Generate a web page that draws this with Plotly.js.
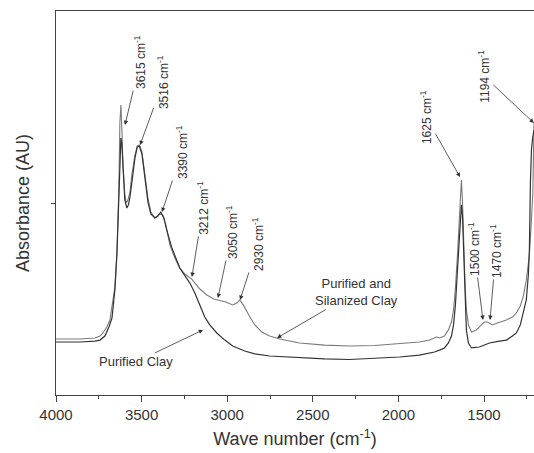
<!DOCTYPE html>
<html>
<head>
<meta charset="utf-8">
<script src="https://cdn.plot.ly/plotly-3.0.1.min.js"></script>
<style>html,body{margin:0;padding:0;background:#fff;}#chart{width:534px;height:453px;}</style>
</head>
<body>
<div id="chart"></div>
<script>
// Purified and Silanized Clay (lighter line)
const silWn = [4000,3860,3772,3743,3726,3703,3685,3667,3656,3644,3638,3633,3627,3621,3615,3609,3598,3589,3580,3568,3557,3539,3525,3513,3498,3481,3463,3446,3422,3393,3376,3358,3335,3306,3277,3247,3207,3160,3119,3078,3049,3008,2968,2944,2927,2903,2874,2839,2798,2752,2693,2577,2431,2285,2139,1993,1877,1818,1778,1760,1731,1708,1690,1678,1667,1655,1643,1638,1632,1626,1620,1611,1603,1591,1573,1544,1515,1498,1480,1468,1451,1422,1369,1334,1311,1288,1270,1253,1235,1223,1215,1212,1208];
const silAbs = [0.292,0.292,0.297,0.307,0.323,0.354,0.391,0.495,0.562,0.740,0.911,1.068,1.417,1.510,1.380,1.198,1.042,1.000,1.016,1.057,1.146,1.250,1.297,1.302,1.266,1.161,1.026,0.953,0.922,0.943,0.937,0.885,0.781,0.714,0.661,0.630,0.604,0.552,0.521,0.500,0.495,0.484,0.469,0.479,0.495,0.464,0.417,0.365,0.328,0.307,0.292,0.271,0.260,0.255,0.258,0.266,0.276,0.286,0.302,0.297,0.307,0.339,0.380,0.443,0.557,0.729,0.937,1.042,1.120,1.016,0.781,0.583,0.443,0.365,0.328,0.339,0.365,0.380,0.380,0.375,0.365,0.375,0.391,0.406,0.427,0.464,0.516,0.599,0.729,0.911,1.050,1.200,1.420];

// Purified Clay (darker line)
const purWn = [4000,3860,3772,3743,3714,3691,3673,3656,3644,3635,3627,3621,3615,3609,3598,3586,3577,3568,3557,3539,3525,3513,3498,3481,3463,3446,3422,3405,3388,3370,3353,3323,3277,3218,3189,3160,3131,3102,3061,3014,2968,2898,2839,2752,2664,2577,2431,2285,2139,1993,1877,1789,1760,1731,1708,1690,1678,1667,1655,1643,1638,1632,1626,1620,1611,1603,1591,1573,1527,1468,1410,1369,1334,1311,1288,1270,1253,1241,1235,1229,1223,1216,1208];
const purAbs = [0.276,0.276,0.281,0.286,0.307,0.354,0.401,0.547,0.740,0.964,1.224,1.339,1.302,1.182,1.016,0.974,0.990,1.031,1.120,1.234,1.292,1.297,1.255,1.141,1.005,0.943,0.922,0.932,0.953,0.922,0.859,0.766,0.661,0.583,0.531,0.469,0.406,0.365,0.323,0.286,0.255,0.229,0.214,0.203,0.198,0.195,0.188,0.185,0.190,0.198,0.208,0.224,0.234,0.245,0.271,0.307,0.365,0.469,0.651,0.859,0.953,0.990,0.937,0.755,0.495,0.339,0.271,0.245,0.250,0.271,0.281,0.286,0.307,0.323,0.365,0.427,0.495,0.625,0.755,1.104,1.276,1.340,1.380];

// Peak labels and their arrow tips (wavenumber, absorbance)
const peakLabels = ["3615 cm<sup>-1</sup>","3516 cm<sup>-1</sup>","3390 cm<sup>-1</sup>","3212 cm<sup>-1</sup>","3050 cm<sup>-1</sup>","2930 cm<sup>-1</sup>","1625 cm<sup>-1</sup>","1194 cm<sup>-1</sup>","1500 cm<sup>-1</sup>","1470 cm<sup>-1</sup>"];
const peakTipWn = [3597,3509,3381,3206,3054,2925,1640,1209,1506,1465];
const peakTipAbs = [1.406,1.302,0.953,0.615,0.505,0.495,1.135,1.417,0.391,0.391];
const peakAx = [15,23,20,11,14,18,-34,-50,-9,6];
const peakAy = [-63,-63,-60,-69,-66,-56,-60,-47,-71,-69];

const xTickVals = [4000,3500,3000,2500,2000,1500];

const ink = '#333333';
const annotations = peakLabels.map((t,i)=>({
  x: peakTipWn[i], y: peakTipAbs[i], xref:'x', yref:'y',
  text: t, textangle: -90, showarrow: true,
  ax: peakAx[i], ay: peakAy[i],
  arrowhead: 2, arrowsize: 1.1, arrowwidth: 0.8, arrowcolor: ink,
  font: {family: 'Liberation Sans, Arial, sans-serif', size: 12, color: ink}
}));
annotations.push({
  x: 2709, y: 0.297, xref:'x', yref:'y',
  text: 'Purified and<br>Silanized Clay', showarrow: true, ax: 79, ay: -46,
  arrowhead: 2, arrowsize: 1.1, arrowwidth: 0.8, arrowcolor: ink,
  font: {family: 'Liberation Sans, Arial, sans-serif', size: 13, color: ink}
});
annotations.push({
  x: 3141, y: 0.339, xref:'x', yref:'y',
  text: 'Purified Clay', showarrow: true, ax: -67, ay: 32,
  arrowhead: 2, arrowsize: 1.1, arrowwidth: 0.8, arrowcolor: ink,
  font: {family: 'Liberation Sans, Arial, sans-serif', size: 13, color: ink}
});

const traces = [
  {x: silWn, y: silAbs, type:'scatter', mode:'lines', name:'Purified and Silanized Clay',
   line:{color:'#7a7a7a', width:1.1}},
  {x: purWn, y: purAbs, type:'scatter', mode:'lines', name:'Purified Clay',
   line:{color:'#333333', width:1.2}}
];

const layout = {
  width: 534, height: 453,
  margin: {l:56, r:0, t:11, b:58},
  paper_bgcolor:'#fff', plot_bgcolor:'#fff',
  showlegend:false,
  font:{family:'Liberation Sans, Arial, sans-serif', color:ink},
  xaxis:{
    range:[4000,1208], tickvals:xTickVals, ticktext:xTickVals.map(String),
    ticks:'outside', ticklen:6, tickwidth:1, tickcolor:'#444',
    minor:{dtick:250, ticks:'outside', ticklen:3, tickcolor:'#444', tick0:4000},
    showline:true, linecolor:'#444', linewidth:1.3, mirror:true,
    showgrid:false, zeroline:false,
    tickfont:{size:15, color:ink},
    title:{text:'Wave number (cm<sup>-1</sup>)', font:{size:18, color:ink}, standoff:10}
  },
  yaxis:{
    range:[0,2], tickvals:[1], showticklabels:false,
    ticks:'outside', ticklen:4, tickcolor:'#444',
    showline:true, linecolor:'#444', linewidth:1.3,
    showgrid:false, zeroline:false,
    title:{text:'Absorbance (AU)', font:{size:18, color:ink}, standoff:16}
  },
  annotations: annotations
};

Plotly.newPlot('chart', traces, layout, {displayModeBar:false, staticPlot:true});
</script>
</body>
</html>
